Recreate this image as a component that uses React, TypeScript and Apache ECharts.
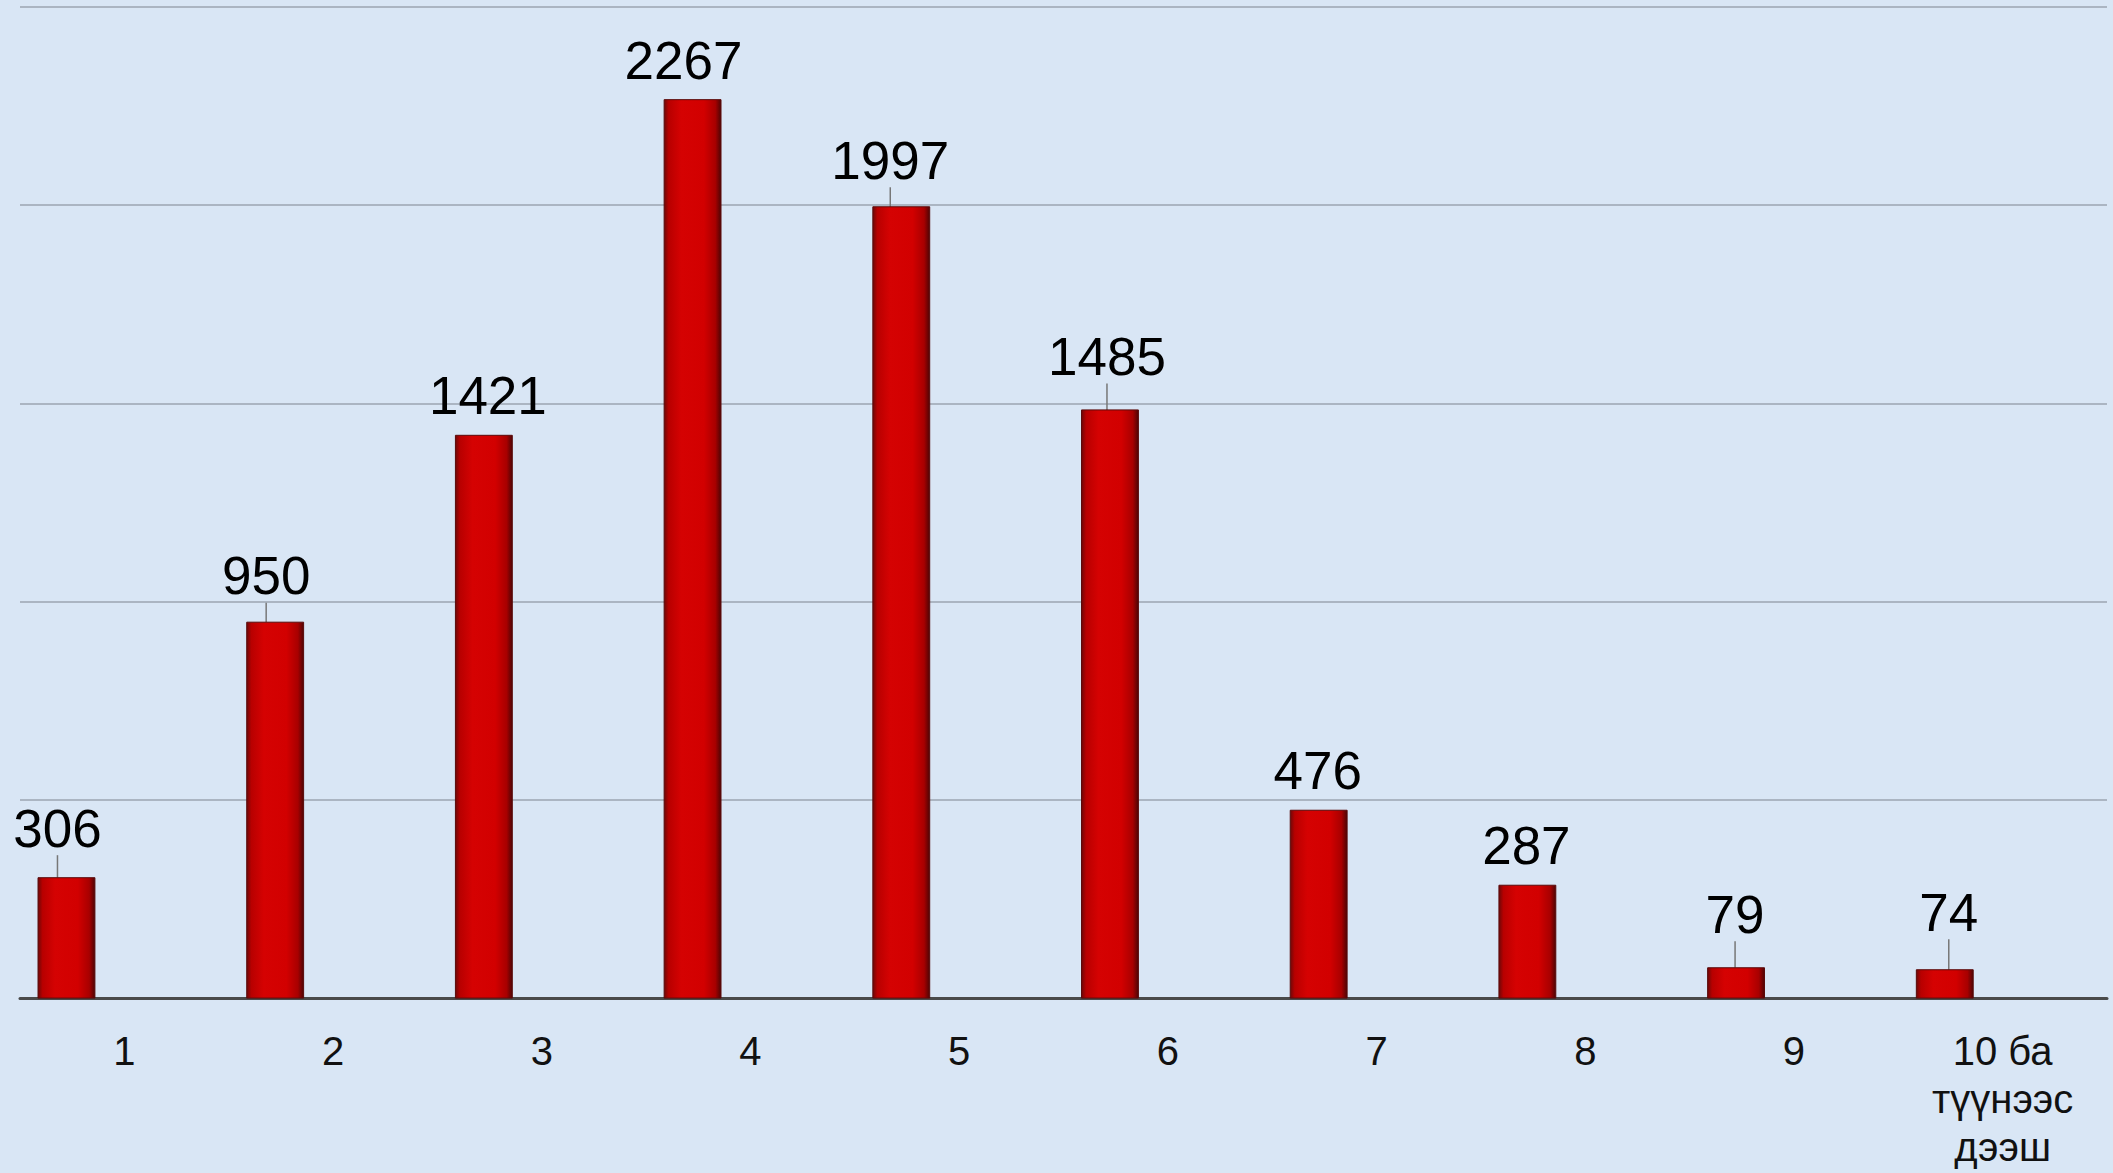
import React, { useEffect, useRef } from "react";
import * as echarts from "echarts";

const categories = ["1", "2", "3", "4", "5", "6", "7", "8", "9", "10 ба\nтүүнээс\nдээш"];
const values = [306, 950, 1421, 2267, 1997, 1485, 476, 287, 79, 74];
const yTicks = { min: 0, max: 2500, interval: 500 };

// label nudges (px) and whether a leader line is drawn, per bar
const labelDx = [-9, -9, 4, -9, -11, -3, -1, -1, -1, 4];
const labelDy = [-10, -7, 0, 0, -7, -14, 0, 0, -14, -18];
const leader = [true, true, false, false, true, true, false, false, true, true];

export default function App() {
  const ref = useRef<HTMLDivElement>(null);
  useEffect(() => {
    if (!ref.current) return;
    const chart = echarts.init(ref.current, null, { renderer: "svg" });
    const barGrad = new echarts.graphic.LinearGradient(0, 0, 1, 0, [
      { offset: 0, color: "#6e0808" },
      { offset: 0.08, color: "#b80000" },
      { offset: 0.3, color: "#d50202" },
      { offset: 0.7, color: "#d20000" },
      { offset: 0.9, color: "#a80000" },
      { offset: 1, color: "#4e0505" },
    ]);
    const font = "'Liberation Sans', Arial, sans-serif";
    chart.setOption({
      animation: false,
      backgroundColor: "#d9e6f5",
      grid: {
        left: 20,
        right: 6,
        top: 6.7,
        bottom: 174.4,
        containLabel: false,
        outerBoundsMode: "none",
      },
      xAxis: {
        type: "category",
        data: categories,
        axisLine: { show: true, lineStyle: { color: "#4a4a4a", width: 3 } },
        axisTick: { show: false },
        axisLabel: {
          interval: 0,
          margin: 28,
          fontSize: 40,
          lineHeight: 48,
          fontFamily: font,
          color: "#111",
        },
      },
      yAxis: {
        type: "value",
        min: yTicks.min,
        max: yTicks.max,
        interval: yTicks.interval,
        axisLabel: { show: false },
        axisLine: { show: false },
        axisTick: { show: false },
        splitLine: { show: true, lineStyle: { color: "#9ba5b0", width: 1.5 } },
      },
      series: [
        {
          type: "bar",
          barGap: "0%",
          barCategoryGap: "16.8%",
          data: values.map((v, i) => ({
            value: v,
            labelLine: { show: leader[i] },
          })),
          itemStyle: { color: barGrad, borderColor: "#5a0a0a", borderWidth: 1 },
          label: {
            show: true,
            position: "top",
            distance: 12,
            fontSize: 53,
            lineHeight: 54,
            fontFamily: font,
            color: "#000",
          },
          labelLine: { show: true, lineStyle: { color: "#777", width: 1.5 } },
          labelLayout: (p: any) => ({ dx: labelDx[p.dataIndex], dy: labelDy[p.dataIndex] }),
        },
        { type: "bar", data: values.map(() => null) },
        { type: "bar", data: values.map(() => null) },
      ],
    });
    return () => chart.dispose();
  }, []);
  return (
    <div
      ref={ref}
      style={{ position: "absolute", left: 0, top: 0, width: 2113, height: 1173 }}
    />
  );
}
